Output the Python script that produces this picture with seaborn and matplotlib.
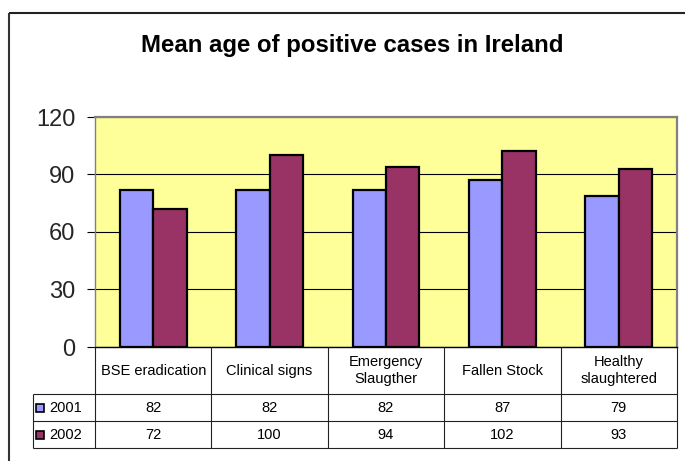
import numpy as np
import pandas as pd
import matplotlib.pyplot as plt
import seaborn as sns
from matplotlib.lines import Line2D
from matplotlib.patches import Rectangle

# Data
categories = ['BSE eradication', 'Clinical signs', 'Emergency\nSlaugther',
              'Fallen Stock', 'Healthy\nslaughtered']
years = ['2001', '2002']
values_2001 = [82, 82, 82, 87, 79]
values_2002 = [72, 100, 94, 102, 93]
colors = ['#9999FF', '#993366']
yticks = [0, 30, 60, 90, 120]

df = pd.DataFrame({
    'category': categories * 2,
    'year': [years[0]] * len(categories) + [years[1]] * len(categories),
    'age': values_2001 + values_2002,
})

W, H = 685, 461
sns.set_theme(style='white')
plt.rcParams['font.family'] = ['Liberation Sans', 'DejaVu Sans']

fig = plt.figure(figsize=(W / 100, H / 100), dpi=100)


def fx(x):
    return x / W


def fy(y):
    return 1 - y / H


def fline(x1, y1, x2, y2, color='#222222', lw=0.8):
    fig.add_artist(Line2D([fx(x1), fx(x2)], [fy(y1), fy(y2)],
                          transform=fig.transFigure, color=color, lw=lw,
                          solid_capstyle='butt'))


# plot area (pixel coordinates measured from the top-left)
left, right, top, bottom = 95, 677, 117, 347
ax = fig.add_axes([fx(left), fy(bottom), fx(right) - fx(left), fy(top) - fy(bottom)])
ax.set_facecolor('#FFFF99')
sns.barplot(data=df, x='category', y='age', hue='year', order=categories,
            palette=colors, width=0.573, edgecolor='black', linewidth=1.6,
            saturation=1, legend=False, ax=ax)

ax.set_ylim(0, 120)
ax.set_xlim(-0.5, len(categories) - 0.5)
ax.set_yticks(yticks)
ax.set_yticklabels([str(t) for t in yticks])
ax.set_xticks([])
ax.set_xlabel('')
ax.set_ylabel('')
ax.yaxis.grid(True, color='black', lw=0.8)
ax.set_axisbelow(True)
ax.tick_params(axis='y', direction='out', length=6, width=0.8, color='black',
               labelsize=17, pad=8, left=True)
for side in ['top', 'right']:
    ax.spines[side].set_color('#808080')
    ax.spines[side].set_linewidth(1.6)
ax.spines['left'].set_color('#808080')
ax.spines['left'].set_linewidth(1.0)
ax.spines['bottom'].set_color('black')
ax.spines['bottom'].set_linewidth(1.0)

# title
fig.text(fx(352), fy(52), 'Mean age of positive cases in Ireland',
         ha='center', va='baseline', fontsize=17.3, fontweight='bold', color='black')

# data table under the axis
edges = np.linspace(left, right, len(categories) + 1)
row_top, row1, row2, row_bot = bottom, 394, 421, 448
key_left = 33

for x in edges:
    fline(x, row_top, x, row_bot)
for y in [row1, row2, row_bot]:
    fline(key_left, y, right, y)
fline(key_left, row1, key_left, row_bot)

centers = (edges[:-1] + edges[1:]) / 2
for cx, cat in zip(centers, categories):
    fig.text(fx(cx), fy((row_top + row1) / 2), cat, ha='center', va='center',
             fontsize=10.5, color='black', linespacing=1.25)

rows = [values_2001, values_2002]
row_centers = [(row1 + row2) / 2, (row2 + row_bot) / 2]
for vals, cy, yr, col in zip(rows, row_centers, years, colors):
    for cx, v in zip(centers, vals):
        fig.text(fx(cx), fy(cy), str(v), ha='center', va='center',
                 fontsize=10.5, color='black')
    fig.add_artist(Rectangle((fx(36), fy(cy + 4)), fx(8), 8 / H,
                             transform=fig.transFigure, facecolor=col,
                             edgecolor='black', lw=1.2))
    fig.text(fx(49), fy(cy), yr, ha='left', va='center', fontsize=10.5, color='black')

# outer chart frame (only top and left edges are in view)
fline(8.7, 12.7, W, 12.7, color='#222222', lw=1.5)
fline(8.7, 12.7, 8.7, H, color='#333333', lw=1.5)

fig.savefig('out.png', dpi=100)
